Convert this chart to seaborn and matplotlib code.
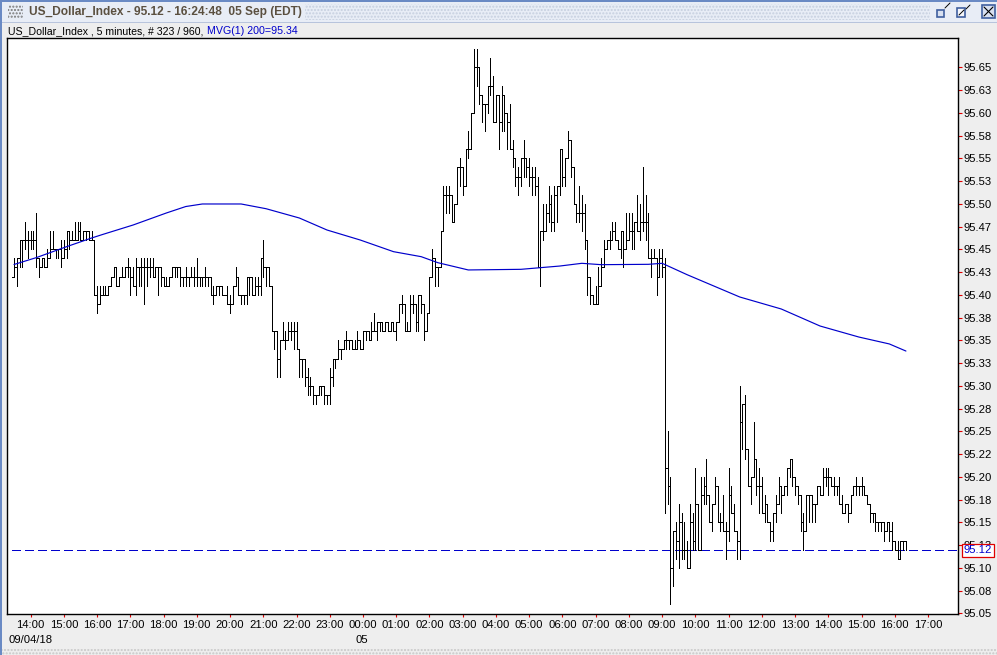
import numpy as np
import pandas as pd
import seaborn as sns
import matplotlib.pyplot as plt
from matplotlib.patches import Rectangle

# Barras de 5 minutos, en centesimas por encima de 95.00
bar_high = [44,44,46,46,48,47,47,47,49,44,44,44,
            45,47,47,45,45,46,46,47,47,47,48,48,
            48,47,47,47,47,46,41,41,41,41,41,42,
            43,43,42,43,43,44,43,43,44,43,44,44,
            44,44,44,43,43,43,42,42,42,43,43,43,
            42,42,43,42,43,43,44,42,42,43,42,42,
            41,41,41,41,40,41,40,41,43,42,40,40,
            42,42,42,42,42,44,46,43,43,41,36,36,
            35,37,36,37,37,37,37,34,33,33,32,31,
            30,29,30,30,30,29,32,33,33,35,34,35,
            36,35,35,35,36,35,36,36,36,37,38,37,
            37,37,37,37,37,37,37,39,40,39,37,40,
            40,39,40,40,39,38,42,45,44,43,47,52,
            52,52,51,50,54,55,54,56,58,60,67,67,
            65,62,61,63,66,64,62,62,63,62,60,61,
            57,55,54,55,57,55,55,54,54,53,47,50,
            50,52,51,52,51,56,56,55,58,57,54,50,
            52,51,50,46,42,40,41,43,44,46,46,47,
            48,48,46,47,47,49,49,49,48,51,50,54,
            51,49,45,45,44,45,45,44,25,20,14,15,
            17,16,15,13,17,16,21,17,20,20,22,18,
            17,20,19,16,18,15,21,19,17,14,30,28,
            29,23,20,26,22,21,20,18,17,15,16,18,
            20,19,19,21,22,22,20,19,18,16,18,18,
            18,17,19,19,21,21,21,20,20,19,20,18,
            17,17,18,19,20,19,20,19,18,17,16,16,
            15,15,15,15,15,15,13,13,13,13,13]
bar_low = [42,41,43,43,45,44,45,45,43,42,43,43,
           43,45,45,44,44,43,44,44,45,46,46,46,
           46,46,46,46,46,40,38,39,40,40,40,41,
           42,41,41,42,42,42,40,41,40,41,41,39,
           41,42,42,42,40,41,41,41,41,42,42,42,
           41,41,41,41,42,41,41,41,41,41,41,40,
           39,40,40,40,40,39,38,39,41,40,39,39,
           39,40,40,40,40,40,42,41,41,36,34,31,
           31,35,34,35,35,34,34,31,31,30,29,29,
           28,28,29,29,28,28,28,30,32,33,33,34,
           34,34,34,34,34,34,34,35,35,35,36,35,
           36,36,36,36,36,36,35,37,38,36,36,36,
           38,36,36,38,35,36,38,42,41,41,43,47,
           49,49,48,48,50,52,51,52,55,56,60,63,
           61,59,58,60,62,59,59,56,58,58,56,56,
           54,52,51,52,53,53,52,51,51,43,41,46,
           47,48,47,47,48,51,52,52,55,53,50,48,
           48,47,45,40,39,39,39,39,42,43,45,45,
           46,46,45,44,43,45,46,45,45,47,46,47,
           46,44,42,44,40,42,42,16,17,6,8,11,
           10,11,11,10,10,12,12,12,12,17,17,15,
           14,17,15,14,14,11,13,16,14,11,11,23,
           22,19,17,22,18,16,16,15,15,13,13,15,
           18,16,18,18,20,19,18,17,14,12,14,15,
           15,15,17,18,18,19,18,19,18,18,17,16,
           16,15,16,18,18,18,18,18,17,15,15,14,
           14,14,13,14,13,12,12,11,11,12,12]
bar_close = [43,44,46,46,46,46,46,46,44,43,44,43,
             44,45,45,45,45,44,45,47,46,46,46,47,
             46,47,47,46,46,40,39,40,40,40,41,42,
             43,41,42,42,43,43,42,41,43,43,43,43,
             43,43,42,43,43,42,41,41,42,43,43,43,
             42,42,42,42,42,42,42,42,42,42,42,40,
             40,41,41,40,40,39,39,41,42,40,40,40,
             42,42,40,41,41,44,43,43,41,36,36,33,
             35,35,35,36,36,36,34,33,33,31,30,30,
             29,29,30,30,29,29,31,33,33,34,34,35,
             35,35,34,34,35,34,36,36,35,36,36,37,
             37,36,37,36,37,36,37,39,39,36,36,39,
             39,37,40,39,36,38,42,44,43,43,47,51,
             51,51,48,50,54,54,52,56,56,60,65,65,
             62,61,61,63,63,59,62,59,62,60,59,56,
             55,53,53,55,55,54,53,53,52,43,47,47,
             49,50,48,51,52,56,53,55,57,54,50,49,
             49,49,46,42,40,39,39,41,43,45,46,46,
             47,46,45,47,45,46,47,47,48,47,48,48,
             48,44,44,44,42,44,43,21,19,10,14,13,
             15,12,12,10,15,13,17,12,18,19,18,15,
             17,19,15,15,14,14,18,16,14,13,26,28,
             23,19,20,22,19,19,16,17,15,14,16,17,
             19,18,19,21,22,20,19,18,15,14,18,18,
             17,17,19,18,20,20,20,19,19,19,17,16,
             17,16,18,19,19,19,19,18,17,16,16,15,
             15,15,14,15,14,13,12,11,13,13,12]

# Media movil
ma_bar = [0,8,19,28,32,43,55,62,68,82,91,103,113,125,137,147,153,164,183,197,
          205,212,229,234,243,262,277,291,305,316,322]
ma_val = [43.33,44.08,45.29,46.24,46.63,47.67,48.99,49.7,49.98,49.98,49.46,48.44,
          47.12,46.02,44.74,44.19,43.53,42.73,42.8,43.16,43.46,43.31,43.35,43.46,
          42.21,39.76,38.44,36.57,35.36,34.6,33.82]

last_price = 95.12
hour_labels = ['14:00','15:00','16:00','17:00','18:00','19:00','20:00','21:00','22:00',
               '23:00','00:00','01:00','02:00','03:00','04:00','05:00','06:00','07:00',
               '08:00','09:00','10:00','11:00','12:00','13:00','14:00','15:00','16:00','17:00']
price_ticks = [95.05,95.075,95.10,95.125,95.15,95.175,95.20,95.225,95.25,95.275,95.30,95.325,
               95.35,95.375,95.40,95.425,95.45,95.475,95.50,95.525,95.55,95.575,95.60,95.625,95.65]
price_labels = ['95.05','95.08','95.10','95.13','95.15','95.18','95.20','95.22','95.25','95.28',
                '95.30','95.33','95.35','95.38','95.40','95.43','95.45','95.47','95.50','95.53',
                '95.55','95.58','95.60','95.63','95.65']

df = pd.DataFrame({'bar': range(len(bar_close)),
                   'high': 95 + np.array(bar_high) / 100,
                   'low': 95 + np.array(bar_low) / 100,
                   'close': 95 + np.array(bar_close) / 100})
df_ma = pd.DataFrame({'bar': ma_bar, 'ma': 95 + np.array(ma_val) / 100})

sns.set_theme(style='white')
plt.rcParams['font.family'] = ['Liberation Sans', 'DejaVu Sans']

W, H = 997, 655
GREY = '#EEEEEE'
BLUE = '#0000CC'
fig = plt.figure(figsize=(W / 100, H / 100), dpi=100, facecolor=GREY)

# Marco de la ventana, en pixeles
bg = fig.add_axes([0, 0, 1, 1], zorder=0)
bg.set_xlim(0, W)
bg.set_ylim(H, 0)
bg.axis('off')
bg.add_patch(Rectangle((0, 0), W, 22, fc='#E8EDF6', ec='none'))
bg.add_patch(Rectangle((0, 0), W, 2, fc='#6A8AC4', ec='none'))
bg.add_patch(Rectangle((0, 22), W, 1, fc='#B8C4DC', ec='none'))
bg.add_patch(Rectangle((0, 0), 2, H, fc='#6A8AC4', ec='none'))
bg.add_patch(Rectangle((8, 5), 15, 14, fc='none', ec='#777777', lw=0, hatch='.....'))
bg.add_patch(Rectangle((305, 4), 625, 16, fc='none', ec='#C6CFDF', lw=0, hatch='.....'))
bg.add_patch(Rectangle((2, 649), W, 6, fc='none', ec='#C8C8C8', lw=0, hatch='.....'))
bg.text(29, 12.5, 'US_Dollar_Index - 95.12 - 16:24:48  05 Sep (EDT)', fontsize=8.6,
        fontweight='bold', color='#5B5040', va='center', ha='left')
bg.text(8, 31, 'US_Dollar_Index , 5 minutes, # 323 / 960, ', fontsize=7.6, color='black',
        va='center', ha='left')
bg.text(207, 31, 'MVG(1) 200=95.34', fontsize=7.7, color=BLUE, va='center', ha='left')
bg.text(8, 640, '09/04/18', fontsize=8.1, color='black', va='center', ha='left')
bg.text(355, 640, '05', fontsize=8.1, color='black', va='center', ha='left')

# Botones de la ventana
bg.add_patch(Rectangle((937, 10), 7, 7, fc='#D8E0F0', ec='#3F5F9F', lw=1.2))
bg.add_patch(Rectangle((957, 8), 8, 9, fc='#F4F6FB', ec='#3F5F9F', lw=1.2))
bg.add_patch(Rectangle((982, 5), 13, 13, fc='#D8E0F0', ec='#3F5F9F', lw=1.2))
bg.plot([984, 993], [7, 16], color='black', lw=0.8)
bg.plot([984, 993], [16, 7], color='black', lw=0.8)
bg.plot([959, 964], [15, 10], color='black', lw=0.7)
bg.plot([945, 950], [8, 3], color='black', lw=0.7)
bg.plot([966, 970], [9, 5], color='black', lw=0.7)

# Panel principal
ax = fig.add_axes([7 / W, 1 - 613.5 / H, 951 / W, 575.5 / H], zorder=1, facecolor='white')

# Linea del ultimo precio
ax.plot([-0.7, 345], [last_price, last_price], color=BLUE, lw=0.8, dashes=(7.5, 4),
        antialiased=False, zorder=1)

# Rango de cada barra y cierres en escalera
ax.vlines(df['bar'], df['low'], df['high'], color='black', lw=0.6, antialiased=False, zorder=2)
sns.lineplot(data=df, x='bar', y='close', color='black', lw=0.6, drawstyle='steps-post',
             errorbar=None, antialiased=False, ax=ax, zorder=2)
ax.hlines(95.42, -0.8, 0, color='black', lw=0.6, antialiased=False, zorder=2)
sns.lineplot(data=df_ma, x='bar', y='ma', color=BLUE, lw=0.85, errorbar=None, ax=ax, zorder=3)

ax.set_xlim(-2.53, 340.8)
ax.set_ylim(95.05 - 0.2 / 910, 95.05 + 575.3 / 910)
ax.set_xlabel('')
ax.set_ylabel('')
ax.set_xticks([6 + 12 * n for n in range(len(hour_labels))])
ax.set_xticklabels(hour_labels, fontsize=8.1, color='black')
ax.yaxis.tick_right()
ax.set_yticks(price_ticks)
ax.set_yticklabels(price_labels, fontsize=8.1, color='black')
ax.tick_params(axis='x', bottom=True, length=2.2, width=0.8, color='#E00000', pad=2.5)
ax.tick_params(axis='y', right=True, length=3.0, width=0.8, color='#E00000', pad=1.0)
for sp in ax.spines.values():
    sp.set_color('black')
    sp.set_linewidth(1.0)

# Etiqueta del precio actual
bg2 = fig.add_axes([0, 0, 1, 1], zorder=2)
bg2.set_xlim(0, W)
bg2.set_ylim(H, 0)
bg2.axis('off')
bg2.add_patch(Rectangle((961.5, 543.5), 32, 13, fc='white', ec='#E00000', lw=0.9))
bg2.text(977.5, 550, '95.12', fontsize=8.1, color=BLUE, va='center', ha='center')

fig.savefig('out.png', dpi=100, facecolor=GREY)
